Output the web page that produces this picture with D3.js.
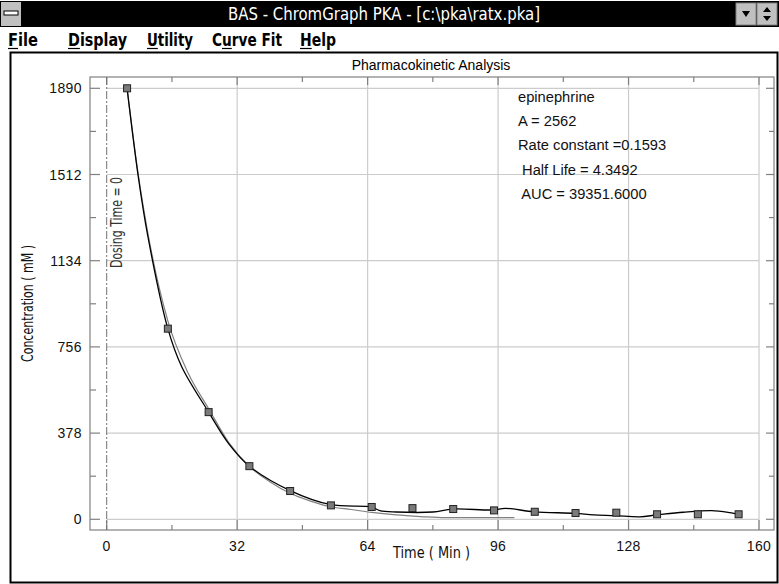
<!DOCTYPE html>
<html><head><meta charset="utf-8">
<script src="https://cdn.jsdelivr.net/npm/d3@7"></script>
<style>
html,body{margin:0;padding:0;background:#fff;}
svg{display:block;}
.nar{font-family:'Liberation Sans Narrow','Arial Narrow','DejaVu Sans Condensed',sans-serif;}
.reg{font-family:'Liberation Sans',Arial,sans-serif;}
</style>
</head><body>
<svg id="c" width="779" height="584"></svg>
<script>
// ---- data ----
const markerTime = [5,15,25,35,45,55,65,75,85,95,105,115,125,135,145,155];
const markerConc = [1890,836,470,233,124,61,54,49,45,39,33,27.5,29,22,22,22];
const curveTime = [5,7.75,10,15,18.4,25,30,35,45,55,65,67,71,80,84.8,94.8,97.7,104.9,114.9,119.4,124.7,130.8,134.9,141.4,148.4,152.9,155];
const curveConc = [1890,1502,1250,836,669,470,330,233,126,64,54,38,32,32,45,41,48,33,26,19,16,11,19,31,38,29,22];
const fitTime = [5,7.75,10,15,20,25,30,35,40,45,50,55,60,65,71,77,83,100];
const fitConc = [1890,1510,1265,870,640,485,335,232,165,114,80,55,43,30,19,12,7,7];
const xTicks = [0,32,64,96,128,160];
const xMinor = [16,48,80,112,144];
const yTicks = [0,378,756,1134,1512,1890];
const yMinor = [189,567,945,1323,1701];
const legendLines = ["epinephrine","A = 2562","Rate constant =0.1593"," Half Life = 4.3492"," AUC = 39351.6000"];
const menuItems = ["File","Display","Utility","Curve Fit","Help"];
const menuUnderline = [0,0,0,1,0];
const windowTitle = "BAS - ChromGraph PKA - [c:\\pka\\ratx.pka]";

// ---- layout ----
const svg = d3.select("#c");
const fx0=90, fx1=774, fy0=77, fy1=530;
const x = d3.scaleLinear().domain([0,160]).range([106.7,759]);
const y = d3.scaleLinear().domain([0,1890]).range([519.3,88.3]);

// title bar
svg.append("rect").attr("x",0).attr("y",1).attr("width",779).attr("height",26).attr("fill","#000");
svg.append("rect").attr("x",1).attr("y",2).attr("width",20).attr("height",24).attr("fill","#c0c0c0");
svg.append("rect").attr("x",4).attr("y",11).attr("width",14).attr("height",4).attr("fill","#fff").attr("stroke","#000");
svg.append("text").attr("class","nar").attr("x",228).attr("y",20)
  .attr("textLength",312).attr("lengthAdjust","spacingAndGlyphs")
  .attr("fill","#fff").attr("font-size",17).text(windowTitle);
[736,757].forEach(bx=>{
  svg.append("rect").attr("x",bx).attr("y",3).attr("width",20).attr("height",22).attr("fill","#c0c0c0").attr("stroke","#808080");
});
svg.append("path").attr("d","M742,11 L750,11 L746,17 Z").attr("fill","#000");
svg.append("path").attr("d","M763,12 L771,12 L767,7 Z M763,16 L771,16 L767,21 Z").attr("fill","#000");

// menu
const menuX = [8,68,147,212,300];
const menuW = [30,59,46,70,36];
menuItems.forEach((m,i)=>{
  const t = svg.append("text").attr("class","nar").attr("x",menuX[i]).attr("y",46)
    .attr("font-size",17).attr("font-weight","bold").attr("fill","#000")
    .attr("textLength",menuW[i]).attr("lengthAdjust","spacingAndGlyphs").text(m);
  const el=t.node(); const idx=menuUnderline[i];
  const s=el.getStartPositionOfChar(idx), e=el.getEndPositionOfChar(idx);
  svg.append("line").attr("x1",s.x).attr("x2",e.x).attr("y1",48.5).attr("y2",48.5).attr("stroke","#000").attr("stroke-width",1.2);
});

// outer chart window
svg.append("rect").attr("x",10.5).attr("y",52.5).attr("width",767).attr("height",530).attr("fill","#fff").attr("stroke","#000").attr("stroke-width",2);

// chart title
svg.append("text").attr("class","reg").attr("x",431).attr("y",70).attr("text-anchor","middle")
  .attr("font-size",14).attr("fill","#000").text("Pharmacokinetic Analysis");

// grid
const g = svg.append("g");
g.selectAll(".vg").data(xTicks.slice(1)).join("line")
  .attr("x1",d=>x(d)).attr("x2",d=>x(d)).attr("y1",fy0).attr("y2",fy1)
  .attr("stroke","#cccccc").attr("stroke-width",1.2);
g.selectAll(".hg").data(yTicks).join("line")
  .attr("x1",x(0)).attr("x2",x(160)).attr("y1",d=>y(d)).attr("y2",d=>y(d))
  .attr("stroke","#cccccc").attr("stroke-width",1.2);

// frame
svg.append("rect").attr("x",fx0).attr("y",fy0).attr("width",fx1-fx0).attr("height",fy1-fy0)
  .attr("fill","none").attr("stroke","#808080").attr("stroke-width",1.2);

// ticks
const tk = svg.append("g").attr("stroke","#808080").attr("stroke-width",1.2);
xTicks.forEach(d=>{
  tk.append("line").attr("x1",x(d)).attr("x2",x(d)).attr("y1",fy1).attr("y2",fy1-10);
  tk.append("line").attr("x1",x(d)).attr("x2",x(d)).attr("y1",fy0).attr("y2",fy0+8);
});
xMinor.forEach(d=>{
  tk.append("line").attr("x1",x(d)).attr("x2",x(d)).attr("y1",fy1).attr("y2",fy1-5);
  tk.append("line").attr("x1",x(d)).attr("x2",x(d)).attr("y1",fy0).attr("y2",fy0+5);
});
yTicks.forEach(d=>{
  tk.append("line").attr("x1",fx0).attr("x2",fx0+10).attr("y1",y(d)).attr("y2",y(d));
  tk.append("line").attr("x1",fx1).attr("x2",fx1-8).attr("y1",y(d)).attr("y2",y(d));
});
yMinor.forEach(d=>{
  tk.append("line").attr("x1",fx0).attr("x2",fx0+6).attr("y1",y(d)).attr("y2",y(d));
  tk.append("line").attr("x1",fx1).attr("x2",fx1-5).attr("y1",y(d)).attr("y2",y(d));
});

// tick labels
svg.append("g").selectAll("text").data(xTicks).join("text").attr("class","reg")
  .attr("x",d=>x(d)).attr("y",551).attr("text-anchor","middle").attr("font-size",14)
  .attr("letter-spacing",0.4).attr("fill","#111").text(d=>d);
svg.append("g").selectAll("text").data(yTicks).join("text").attr("class","reg")
  .attr("x",82).attr("y",d=>y(d)+5).attr("text-anchor","end").attr("font-size",14)
  .attr("letter-spacing",0.4).attr("fill","#111").text(d=>d);

// axis titles
svg.append("text").attr("class","nar").attr("x",393).attr("y",558)
  .attr("textLength",77).attr("lengthAdjust","spacingAndGlyphs")
  .attr("font-size",16).attr("fill","#111").text("Time ( Min )");
svg.append("text").attr("class","nar").attr("transform","translate(33,362) rotate(-90)")
  .attr("textLength",117).attr("lengthAdjust","spacingAndGlyphs")
  .attr("font-size",16.5).attr("fill","#111").text("Concentration ( mM )");

// dosing line
svg.append("line").attr("x1",x(0)).attr("x2",x(0)).attr("y1",fy0).attr("y2",fy1)
  .attr("stroke","#707070").attr("stroke-width",1).attr("stroke-dasharray","8,2,2,2");
svg.append("text").attr("class","nar").attr("transform","translate(122,268) rotate(-90)")
  .attr("textLength",91).attr("lengthAdjust","spacingAndGlyphs")
  .attr("font-size",15).attr("fill","#333").text("Dosing Time = 0");

// fit curve (gray)
const fitData = fitTime.map((t,i)=>[t,fitConc[i]]);
svg.append("path").datum(fitData)
  .attr("d",d3.line().x(d=>x(d[0])).y(d=>y(d[1])).curve(d3.curveMonotoneX))
  .attr("fill","none").attr("stroke","#808080").attr("stroke-width",1.2);
// data curve (black)
const curveData = curveTime.map((t,i)=>[t,curveConc[i]]);
svg.append("path").datum(curveData)
  .attr("d",d3.line().x(d=>x(d[0])).y(d=>y(d[1])).curve(d3.curveCatmullRom))
  .attr("fill","none").attr("stroke","#000").attr("stroke-width",1.3);

// markers
svg.append("g").selectAll("rect").data(markerTime.map((t,i)=>[t,markerConc[i]])).join("rect")
  .attr("x",d=>x(d[0])-3.5).attr("y",d=>y(d[1])-3.5).attr("width",7).attr("height",7)
  .attr("fill","#7a7a7a").attr("stroke","#222").attr("stroke-width",1);

// legend
svg.append("g").selectAll("text").data(legendLines).join("text").attr("class","reg")
  .attr("x",518).attr("y",(d,i)=>102+i*24.2).attr("font-size",14.7).attr("fill","#111")
  .attr("xml:space","preserve").style("white-space","pre").text(d=>d);
</script>
</body></html>
